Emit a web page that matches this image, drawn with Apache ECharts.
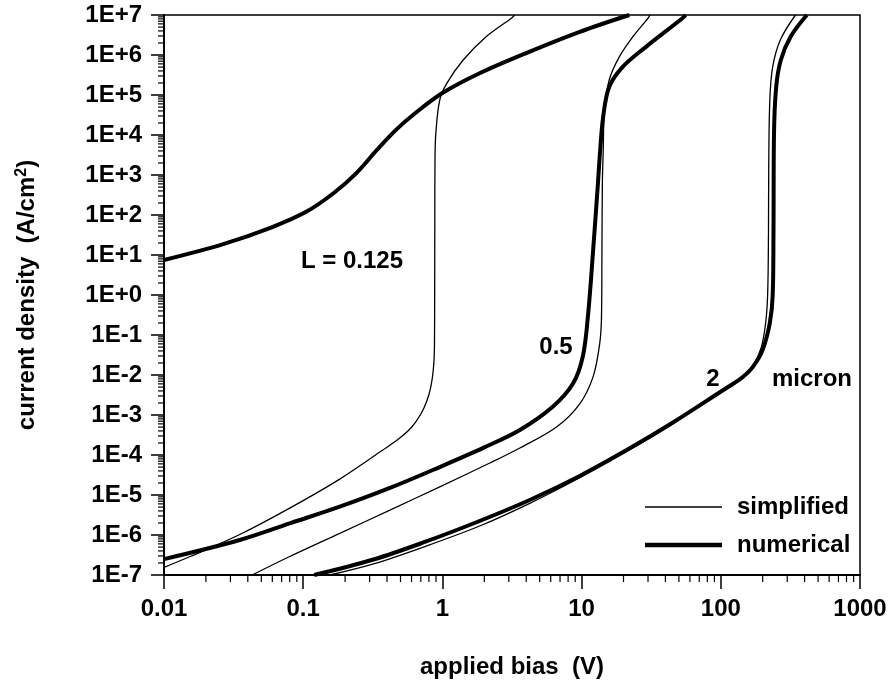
<!DOCTYPE html>
<html><head><meta charset="utf-8">
<script src="https://cdn.jsdelivr.net/npm/echarts@6/dist/echarts.min.js"></script>
<style>html,body{margin:0;padding:0;background:#fff}#c{width:890px;height:684px}</style>
</head><body><div id="c"></div>
<script>
// ---- data (V in volts, J in A/cm^2) ----
const xTickValues = [0.01, 0.1, 1, 10, 100, 1000];
const xTickLabels = ['0.01', '0.1', '1', '10', '100', '1000'];
const yTickLabels = ['1E-7','1E-6','1E-5','1E-4','1E-3','1E-2','1E-1','1E+0','1E+1','1E+2','1E+3','1E+4','1E+5','1E+6','1E+7'];

const num0125 = [[0.01,7.5],[0.027,19],[0.06,50],[0.105,120],[0.165,350],[0.24,1100],[0.34,4300],[0.47,14000],[0.64,35500],[1.0,1.12e5],[1.85,3.5e5],[4.2,1.2e6],[9.7,3.8e6],[22,1e7]];
const simp0125 = [[0.01,1.55e-7],[0.0154,2.9e-7],[0.035,1.03e-6],[0.08,4.7e-6],[0.183,2.5e-5],[0.373,1.33e-4],[0.494,2.66e-4],[0.603,5.0e-4],[0.70,1.06e-3],[0.773,2.24e-3],[0.825,5.0e-3],[0.86,1.33e-2],[0.876,4.2e-2],[0.88,1],[0.882,100],[0.885,2.5e3],[0.897,1.1e4],[0.957,7.5e4],[1.07,1.9e5],[1.41,7.5e5],[2.07,2.9e6],[3.13,8.3e6],[3.3,1e7]];
const num05 = [[0.01,2.5e-7],[0.035,7.5e-7],[0.08,1.95e-6],[0.183,5.1e-6],[0.42,1.5e-5],[0.957,5.0e-5],[2.0,1.55e-4],[3.6,4.2e-4],[6.2,1.6e-3],[8.7,6.2e-3],[10.2,2.9e-2],[11.1,0.29],[12.1,13],[13.1,620],[13.6,4200],[14.3,2.9e4],[15.8,1.6e5],[19.8,5.1e5],[29,1.6e6],[53,8.3e6],[56,1e7]];
const simp05 = [[0.043,1e-7],[0.08,2.9e-7],[0.183,1.1e-6],[0.42,4.2e-6],[0.957,1.6e-5],[2.19,6.3e-5],[3.6,1.5e-4],[6.6,5.0e-4],[9.7,1.9e-3],[12.1,9.1e-3],[13.5,6.2e-2],[13.9,0.29],[14.0,13],[14.1,630],[14.3,4000],[14.6,4.2e4],[15.8,2.4e5],[18.7,9.1e5],[23.4,2.9e6],[30,8.3e6],[31,1e7]];
const num2 = [[0.12,1e-7],[0.32,2.44e-7],[0.73,6.5e-7],[1.85,2.24e-6],[4.24,7.5e-6],[9.7,3.0e-5],[22,1.45e-4],[45,6.4e-4],[103,4.1e-3],[125,6.3e-3],[144,8.9e-3],[170,1.6e-2],[200,4.3e-2],[225,0.2],[236,1],[239,32],[241,1e4],[250,1.6e5],[270,7.5e5],[318,2.9e6],[415,1e7]];
const simp2 = [[0.155,1e-7],[0.32,1.9e-7],[0.73,5.0e-7],[1.85,1.68e-6],[4.24,6.2e-6],[9.7,2.7e-5],[22,1.33e-4],[45,6.0e-4],[103,4.0e-3],[125,6.1e-3],[144,8.7e-3],[170,1.65e-2],[195,4.8e-2],[210,0.2],[217,1],[220,32],[221,1.6e3],[225,7.5e4],[236,5.1e5],[268,2.4e6],[344,1e7]];

const minorMult = [2,3,4,5,6,7,8,9];
const xDecades = [0.01, 0.1, 1, 10, 100];
const yDecades = [1e-7,1e-6,1e-5,1e-4,1e-3,1e-2,1e-1,1,10,100,1e3,1e4,1e5,1e6];

const FONT = '"Liberation Sans", Arial, Helvetica, sans-serif';
const FW = 'bold';
const xMinor = [];
xDecades.forEach(d => minorMult.forEach(m => xMinor.push([d*m, 1e-7])));
const yMinor = [];
yDecades.forEach(d => minorMult.forEach(m => yMinor.push([0.01, d*m])));

function expOf(v){ return Math.round(Math.log10(v)); }

const thin = {type:'line', smooth:0.35, showSymbol:false, symbol:'none', lineStyle:{color:'#000', width:1.3}, itemStyle:{color:'#000'}, z:3, silent:true};
const thick = {type:'line', smooth:0.35, showSymbol:false, symbol:'none', lineStyle:{color:'#000', width:4}, itemStyle:{color:'#000'}, z:4, silent:true};
const txt = {fontSize:24, fontFamily:FONT, fontWeight:FW, fill:'#000', align:'center', verticalAlign:'middle'};

const chart = echarts.init(document.getElementById('c'), null, {renderer:'canvas'});
chart.setOption({
  animation:false,
  backgroundColor:'#fff',
  textStyle:{fontFamily:FONT, color:'#000'},
  grid:{left:164, right:30, top:15, bottom:109, show:true, borderColor:'#000', borderWidth:1.5, backgroundColor:'transparent'},
  xAxis:{
    type:'log', logBase:10, min:0.01, max:1000, interval:1,
    axisLine:{show:true, onZero:false, lineStyle:{color:'#000', width:2}},
    axisTick:{show:true, inside:false, length:14, lineStyle:{color:'#000', width:1.5}},
    splitLine:{show:false},
    axisLabel:{margin:22, fontSize:24, fontWeight:FW, color:'#000', fontFamily:FONT,
      formatter:v => { const i = xTickValues.findIndex(t => Math.abs(Math.log10(t)-Math.log10(v))<1e-6); return i>=0 ? xTickLabels[i] : ''; }},
    name:'applied bias  (V)', nameLocation:'middle', nameGap:80,
    nameTextStyle:{fontSize:24, fontWeight:FW, color:'#000', fontFamily:FONT}
  },
  yAxis:{
    type:'log', logBase:10, min:1e-7, max:1e7, interval:1,
    axisLine:{show:true, onZero:false, lineStyle:{color:'#000', width:2}},
    axisTick:{show:true, inside:false, length:13, lineStyle:{color:'#000', width:1.5}},
    splitLine:{show:false},
    axisLabel:{margin:22, fontSize:24, fontWeight:FW, color:'#000', fontFamily:FONT,
      formatter:v => { const i = expOf(v)+7; return yTickLabels[i] || ''; }},
    name:'{n|current density  (A/cm}{s|2}{n|)}', nameLocation:'middle', nameGap:124,
    nameTextStyle:{fontSize:24, fontWeight:FW, color:'#000', fontFamily:FONT,
      rich:{n:{fontSize:24, fontWeight:FW, fontFamily:FONT, color:'#000'}, s:{fontSize:16, fontWeight:FW, fontFamily:FONT, color:'#000', verticalAlign:'top', padding:[0,0,10,0]}}}
  },
  legend:{
    orient:'vertical', left:645, top:495, padding:0, itemWidth:77, itemHeight:14, itemGap:14,
    symbolKeepAspect:true, selectedMode:false,
    data:[{name:'simplified', icon:'path://M0,0L77,0L77,1.5L0,1.5Z'}, {name:'numerical', icon:'path://M0,0L77,0L77,4.5L0,4.5Z'}],
    textStyle:{fontSize:24, fontWeight:FW, color:'#000', fontFamily:FONT, padding:[0,0,0,10]}
  },
  graphic:[
    {type:'text', x:352, y:261, style:Object.assign({text:'L = 0.125'}, txt)},
    {type:'text', x:556, y:347, style:Object.assign({text:'0.5'}, txt)},
    {type:'text', x:713, y:379, style:Object.assign({text:'2'}, txt)},
    {type:'text', x:812, y:379, style:Object.assign({text:'micron'}, txt)}
  ],
  series:[
    Object.assign({name:'simplified', data:simp0125}, thin),
    Object.assign({name:'simplified', data:simp05}, thin),
    Object.assign({name:'simplified', data:simp2}, thin),
    Object.assign({name:'numerical', data:num0125}, thick),
    Object.assign({name:'numerical', data:num05}, thick),
    Object.assign({name:'numerical', data:num2}, thick),
    {type:'custom', name:'xminor', silent:true, clip:false, data:xMinor, encode:{x:0,y:1},
      renderItem:(params, api) => { const p = api.coord([api.value(0), api.value(1)]);
        return {type:'line', shape:{x1:p[0], y1:p[1], x2:p[0], y2:p[1]+7}, style:{stroke:'#000', lineWidth:1.2}}; }},
    {type:'custom', name:'yminor', silent:true, clip:false, data:yMinor, encode:{x:0,y:1},
      renderItem:(params, api) => { const p = api.coord([api.value(0), api.value(1)]);
        return {type:'line', shape:{x1:p[0]-6, y1:p[1], x2:p[0], y2:p[1]}, style:{stroke:'#000', lineWidth:1.2}}; }}
  ]
});
</script></body></html>
